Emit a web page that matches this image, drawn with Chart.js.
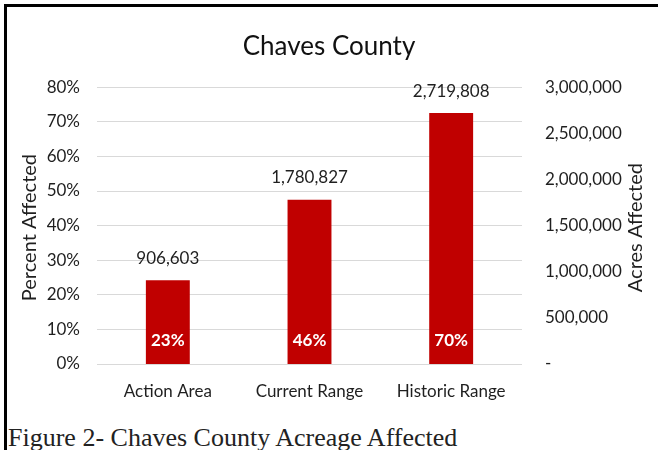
<!DOCTYPE html>
<html><head><meta charset="utf-8">
<script src="https://cdn.jsdelivr.net/npm/chart.js@4"></script>
<style>
html,body{margin:0;padding:0;background:#fff;width:658px;height:450px;overflow:hidden}
#frame{position:absolute;left:4px;top:4px;width:680px;height:460px;border-top:3px solid #000;border-left:3px solid #000;box-sizing:border-box}
#wrap{position:absolute;left:0;top:0;width:658px;height:412px}
#cap{position:absolute;left:8px;top:425px;font-family:"Liberation Serif",serif;font-size:26px;color:#222;white-space:nowrap;line-height:1}
</style></head>
<body>
<div id="frame"></div>
<div id="wrap"><canvas id="c"></canvas></div>
<div id="cap">Figure 2- Chaves County Acreage Affected</div>
<script>
const categories = ['Action Area', 'Current Range', 'Historic Range'];
const acresAffected = [906603, 1780827, 2719808];
const percentAffected = [23, 46, 70];
const percentAxisMax = 80, percentAxisStep = 10;
const acresAxisMax = 3000000, acresAxisStep = 500000;

const FONT = 'Lato, "Open Sans", sans-serif';
const TXT = '#1f1f1f';

const labelsPlugin = {
  id: 'labels',
  afterDatasetsDraw(chart) {
    const ctx = chart.ctx;
    const meta = chart.getDatasetMeta(0);
    const yScale = chart.scales.acres;
    ctx.save();
    ctx.textAlign = 'center';
    ctx.textBaseline = 'middle';
    meta.data.forEach((bar, i) => {
      ctx.fillStyle = TXT;
      ctx.font = '17px ' + FONT;
      ctx.fillText(acresAffected[i].toLocaleString('en-US'), bar.x, bar.y - 22);
      ctx.fillStyle = '#ffffff';
      ctx.font = 'bold 17px ' + FONT;
      ctx.fillText(percentAffected[i] + '%', bar.x, yScale.getPixelForValue(0) - 23);
    });
    ctx.restore();
  }
};

const axisTitlesPlugin = {
  id: 'axisTitles',
  afterDraw(chart) {
    const ctx = chart.ctx;
    const a = chart.chartArea;
    const cy = (a.top + a.bottom) / 2 + 2;
    [['Percent Affected', 30], ['Acres Affected', 636]].forEach(([t, x]) => {
      ctx.save();
      ctx.fillStyle = TXT;
      ctx.font = '20px ' + FONT;
      ctx.textAlign = 'center';
      ctx.textBaseline = 'middle';
      ctx.translate(x, cy);
      ctx.rotate(-Math.PI / 2);
      ctx.fillText(t, 0, 0);
      ctx.restore();
    });
  }
};

new Chart(document.getElementById('c'), {
  type: 'bar',
  data: {
    labels: categories,
    datasets: [{
      label: 'Acres Affected',
      data: acresAffected,
      yAxisID: 'acres',
      backgroundColor: '#c00000',
      borderWidth: 0,
      categoryPercentage: 1,
      barPercentage: 0.31
    }]
  },
  options: {
    responsive: true,
    maintainAspectRatio: false,
    animation: false,
    layout: { padding: { left: 0, right: 0, top: 0, bottom: 0 } },
    plugins: {
      legend: { display: false },
      tooltip: { enabled: false },
      title: {
        display: true,
        text: 'Chaves County',
        color: '#111',
        font: { family: FONT, size: 26, weight: 'normal' },
        padding: { top: 31, bottom: 25 }
      }
    },
    scales: {
      x: {
        grid: { display: false, drawTicks: false },
        border: { display: false },
        ticks: { color: TXT, font: { family: FONT, size: 17 }, padding: 17 },
        afterFit(s) { s.height = 48; }
      },
      percent: {
        type: 'linear',
        position: 'left',
        min: 0, max: percentAxisMax,
        grid: { color: '#d9d9d9', drawTicks: false, lineWidth: 1 },
        border: { display: false },
        ticks: {
          stepSize: percentAxisStep, color: TXT, padding: 17,
          font: { family: FONT, size: 17 },
          callback: v => v + '%'
        },
        afterFit(s) { s.width = 97; }
      },
      acres: {
        type: 'linear',
        position: 'right',
        min: 0, max: acresAxisMax,
        grid: { display: false, drawTicks: false },
        border: { display: false },
        ticks: {
          stepSize: acresAxisStep, color: TXT, padding: 23,
          font: { family: FONT, size: 17 },
          callback: v => v === 0 ? '-' : v.toLocaleString('en-US')
        },
        afterFit(s) { s.width = 136; }
      }
    }
  },
  plugins: [labelsPlugin, axisTitlesPlugin]
});
</script>
</body></html>
